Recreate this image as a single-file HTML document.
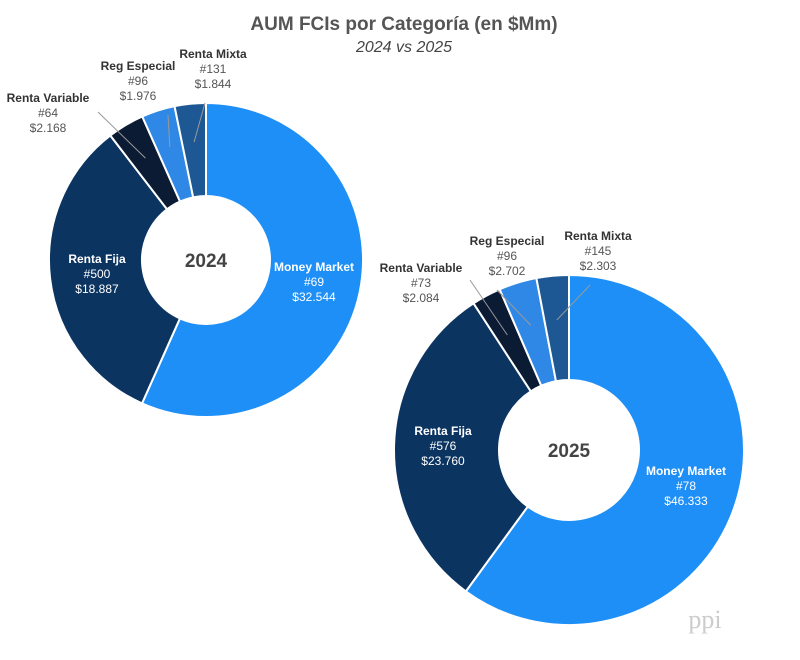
<!DOCTYPE html>
<html><head><meta charset="utf-8"><style>
body{margin:0;background:#fff;width:800px;height:655px;overflow:hidden;font-family:"Liberation Sans",sans-serif}
</style></head><body>
<svg id="chart" width="800" height="655" viewBox="0 0 800 655" xmlns="http://www.w3.org/2000/svg">
<text x="404" y="30" text-anchor="middle" font-size="19" font-weight="bold" fill="#555">AUM FCIs por Categoría (en $Mm)</text>
<text x="404" y="52" text-anchor="middle" font-size="16" font-style="italic" fill="#444">2024 vs 2025</text>
<text x="705" y="628" text-anchor="middle" font-size="26" font-family="Liberation Serif,serif" fill="#ccc">ppi</text>
<g id="g"></g>
</svg>
<script>
const categories=["Money Market","Renta Fija","Renta Variable","Reg Especial","Renta Mixta"];
const counts2024=[69,500,64,96,131];
const values2024=[32544,18887,2168,1976,1844];
const counts2025=[78,576,73,96,145];
const values2025=[46333,23760,2084,2702,2303];
const colors=["#1e8ff7","#0c3461","#0a1b33","#2f88e6","#1d5894"];
const NS="http://www.w3.org/2000/svg";
const g=document.getElementById('g');
function fmt(v){return "$"+v.toString().replace(/\B(?=(\d{3})+(?!\d))/g,".");}
function pt(cx,cy,r,a){return [cx+r*Math.sin(a),cy-r*Math.cos(a)];}
function mk(tag,attrs){const e=document.createElementNS(NS,tag);for(const k in attrs)e.setAttribute(k,attrs[k]);g.appendChild(e);return e;}
function donut(year,cx,cy,R,r,vals,cnts,labelPos){
  const tot=vals.reduce((a,b)=>a+b,0);let a0=0;
  vals.forEach((v,i)=>{
    const a1=a0+v/tot*2*Math.PI;const lg=(a1-a0)>Math.PI?1:0;
    const p1=pt(cx,cy,R,a0),p2=pt(cx,cy,R,a1),p3=pt(cx,cy,r,a1),p4=pt(cx,cy,r,a0);
    const p=mk('path',{d:`M${p1}A${R},${R} 0 ${lg} 1 ${p2}L${p3}A${r},${r} 0 ${lg} 0 ${p4}Z`,fill:colors[i],stroke:'#fff','stroke-width':2});
    
    
    const lp=labelPos[i];const inside=i<2;
    if(!inside){
      const m=pt(cx,cy,(R+r)/2+8,(a0+a1)/2);
      const ln=mk('polyline',{points:`${lp[0]+lp[2]},${lp[1]+lp[3]} ${m[0]},${m[1]}`,fill:'none',stroke:'#999','stroke-width':1});
      
      
    }
    const fill=inside?'#fff':'#555';
    const t=mk('text',{x:lp[0],y:lp[1],'text-anchor':'middle','font-size':12,fill:fill});
    
    
    const l1=document.createElementNS(NS,'tspan');l1.setAttribute('x',lp[0]);l1.setAttribute('font-weight','bold');l1.setAttribute('fill',inside?'#fff':'#333');l1.textContent=categories[i];t.appendChild(l1);
    const l2=document.createElementNS(NS,'tspan');l2.setAttribute('x',lp[0]);l2.setAttribute('dy',15);l2.textContent='#'+cnts[i];t.appendChild(l2);
    const l3=document.createElementNS(NS,'tspan');l3.setAttribute('x',lp[0]);l3.setAttribute('dy',15);l3.textContent=fmt(vals[i]);t.appendChild(l3);
    a0=a1;
  });
  const c=mk('text',{x:cx,y:cy+7,'text-anchor':'middle','font-size':19,'font-weight':'bold',fill:'#444'});
  
  
  c.textContent=year;
}
donut('2024',206,260,157,64,values2024,counts2024,[[314,271,0,0],[97,263,0,0],[48,102,50,10],[138,70,30,45],[213,58,-8,45]]);
donut('2025',569,450,175,70,values2025,counts2025,[[686,475,0,0],[443,435,0,0],[421,272,49,8],[507,245,-10,45],[598,240,-8,45]]);
</script>
</body></html>
